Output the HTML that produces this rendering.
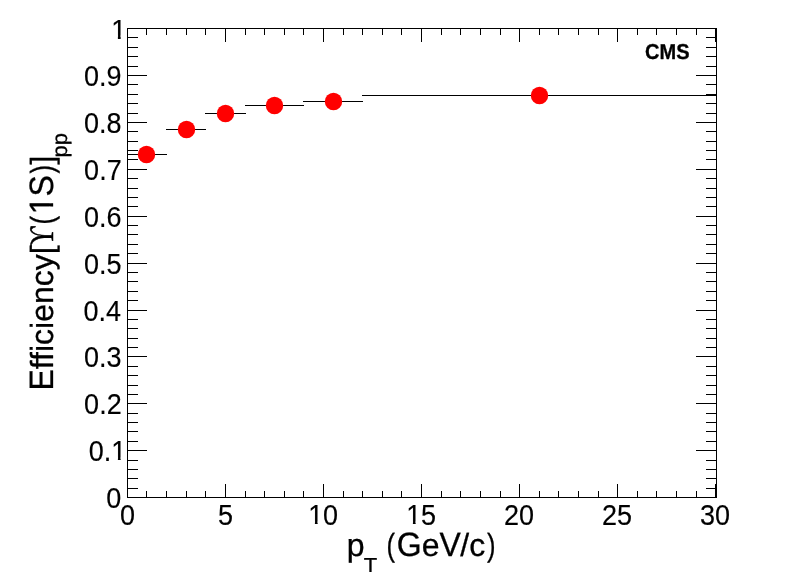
<!DOCTYPE html>
<html lang="en">
<head>
<meta charset="utf-8">
<title>Efficiency vs pT</title>
<style>
html,body{margin:0;padding:0;background:#fff;}
body{width:796px;height:572px;overflow:hidden;}
svg{display:block;}
text{font-family:"Liberation Sans",Arial,Helvetica,sans-serif;fill:#000;stroke:#000;stroke-width:0.3px;stroke-linejoin:round;white-space:pre;}
.sym{font-family:"Liberation Serif","DejaVu Serif",serif;stroke-width:0.5px;}
.gp{text-rendering:geometricPrecision;}
.lb text{stroke-width:0.15px;}
.ax,.eb{fill:#000;shape-rendering:crispEdges;}
.mk{fill:#ff0000;}
</style>
</head>
<body>
<svg width="796" height="572" viewBox="0 0 796 572">
<rect x="0" y="0" width="796" height="572" fill="#ffffff"/>
<g id="frame">
<rect class="ax" x="127" y="28" width="590" height="1"/>
<rect class="ax" x="127" y="497" width="590" height="1"/>
<rect class="ax" x="127" y="28" width="1" height="470"/>
<rect class="ax" x="716" y="28" width="1" height="470"/>
</g>
<g id="xticks">
<rect class="ax" x="127" y="484" width="1" height="14"/>
<rect class="ax" x="127" y="28" width="1" height="14"/>
<rect class="ax" x="146" y="491" width="1" height="7"/>
<rect class="ax" x="146" y="28" width="1" height="7"/>
<rect class="ax" x="166" y="491" width="1" height="7"/>
<rect class="ax" x="166" y="28" width="1" height="7"/>
<rect class="ax" x="186" y="491" width="1" height="7"/>
<rect class="ax" x="186" y="28" width="1" height="7"/>
<rect class="ax" x="205" y="491" width="1" height="7"/>
<rect class="ax" x="205" y="28" width="1" height="7"/>
<rect class="ax" x="225" y="484" width="1" height="14"/>
<rect class="ax" x="225" y="28" width="1" height="14"/>
<rect class="ax" x="245" y="491" width="1" height="7"/>
<rect class="ax" x="245" y="28" width="1" height="7"/>
<rect class="ax" x="264" y="491" width="1" height="7"/>
<rect class="ax" x="264" y="28" width="1" height="7"/>
<rect class="ax" x="284" y="491" width="1" height="7"/>
<rect class="ax" x="284" y="28" width="1" height="7"/>
<rect class="ax" x="303" y="491" width="1" height="7"/>
<rect class="ax" x="303" y="28" width="1" height="7"/>
<rect class="ax" x="323" y="484" width="1" height="14"/>
<rect class="ax" x="323" y="28" width="1" height="14"/>
<rect class="ax" x="343" y="491" width="1" height="7"/>
<rect class="ax" x="343" y="28" width="1" height="7"/>
<rect class="ax" x="362" y="491" width="1" height="7"/>
<rect class="ax" x="362" y="28" width="1" height="7"/>
<rect class="ax" x="382" y="491" width="1" height="7"/>
<rect class="ax" x="382" y="28" width="1" height="7"/>
<rect class="ax" x="401" y="491" width="1" height="7"/>
<rect class="ax" x="401" y="28" width="1" height="7"/>
<rect class="ax" x="421" y="484" width="1" height="14"/>
<rect class="ax" x="421" y="28" width="1" height="14"/>
<rect class="ax" x="441" y="491" width="1" height="7"/>
<rect class="ax" x="441" y="28" width="1" height="7"/>
<rect class="ax" x="460" y="491" width="1" height="7"/>
<rect class="ax" x="460" y="28" width="1" height="7"/>
<rect class="ax" x="480" y="491" width="1" height="7"/>
<rect class="ax" x="480" y="28" width="1" height="7"/>
<rect class="ax" x="500" y="491" width="1" height="7"/>
<rect class="ax" x="500" y="28" width="1" height="7"/>
<rect class="ax" x="519" y="484" width="1" height="14"/>
<rect class="ax" x="519" y="28" width="1" height="14"/>
<rect class="ax" x="539" y="491" width="1" height="7"/>
<rect class="ax" x="539" y="28" width="1" height="7"/>
<rect class="ax" x="558" y="491" width="1" height="7"/>
<rect class="ax" x="558" y="28" width="1" height="7"/>
<rect class="ax" x="578" y="491" width="1" height="7"/>
<rect class="ax" x="578" y="28" width="1" height="7"/>
<rect class="ax" x="598" y="491" width="1" height="7"/>
<rect class="ax" x="598" y="28" width="1" height="7"/>
<rect class="ax" x="617" y="484" width="1" height="14"/>
<rect class="ax" x="617" y="28" width="1" height="14"/>
<rect class="ax" x="637" y="491" width="1" height="7"/>
<rect class="ax" x="637" y="28" width="1" height="7"/>
<rect class="ax" x="656" y="491" width="1" height="7"/>
<rect class="ax" x="656" y="28" width="1" height="7"/>
<rect class="ax" x="676" y="491" width="1" height="7"/>
<rect class="ax" x="676" y="28" width="1" height="7"/>
<rect class="ax" x="696" y="491" width="1" height="7"/>
<rect class="ax" x="696" y="28" width="1" height="7"/>
<rect class="ax" x="715" y="484" width="1" height="14"/>
<rect class="ax" x="715" y="28" width="1" height="14"/>
</g>
<g id="yticks">
<rect class="ax" x="127" y="497" width="20" height="1"/>
<rect class="ax" x="696" y="497" width="21" height="1"/>
<rect class="ax" x="127" y="488" width="11" height="1"/>
<rect class="ax" x="706" y="488" width="11" height="1"/>
<rect class="ax" x="127" y="478" width="11" height="1"/>
<rect class="ax" x="706" y="478" width="11" height="1"/>
<rect class="ax" x="127" y="469" width="11" height="1"/>
<rect class="ax" x="706" y="469" width="11" height="1"/>
<rect class="ax" x="127" y="460" width="11" height="1"/>
<rect class="ax" x="706" y="460" width="11" height="1"/>
<rect class="ax" x="127" y="450" width="20" height="1"/>
<rect class="ax" x="696" y="450" width="21" height="1"/>
<rect class="ax" x="127" y="441" width="11" height="1"/>
<rect class="ax" x="706" y="441" width="11" height="1"/>
<rect class="ax" x="127" y="431" width="11" height="1"/>
<rect class="ax" x="706" y="431" width="11" height="1"/>
<rect class="ax" x="127" y="422" width="11" height="1"/>
<rect class="ax" x="706" y="422" width="11" height="1"/>
<rect class="ax" x="127" y="413" width="11" height="1"/>
<rect class="ax" x="706" y="413" width="11" height="1"/>
<rect class="ax" x="127" y="403" width="20" height="1"/>
<rect class="ax" x="696" y="403" width="21" height="1"/>
<rect class="ax" x="127" y="394" width="11" height="1"/>
<rect class="ax" x="706" y="394" width="11" height="1"/>
<rect class="ax" x="127" y="385" width="11" height="1"/>
<rect class="ax" x="706" y="385" width="11" height="1"/>
<rect class="ax" x="127" y="375" width="11" height="1"/>
<rect class="ax" x="706" y="375" width="11" height="1"/>
<rect class="ax" x="127" y="366" width="11" height="1"/>
<rect class="ax" x="706" y="366" width="11" height="1"/>
<rect class="ax" x="127" y="356" width="20" height="1"/>
<rect class="ax" x="696" y="356" width="21" height="1"/>
<rect class="ax" x="127" y="347" width="11" height="1"/>
<rect class="ax" x="706" y="347" width="11" height="1"/>
<rect class="ax" x="127" y="338" width="11" height="1"/>
<rect class="ax" x="706" y="338" width="11" height="1"/>
<rect class="ax" x="127" y="328" width="11" height="1"/>
<rect class="ax" x="706" y="328" width="11" height="1"/>
<rect class="ax" x="127" y="319" width="11" height="1"/>
<rect class="ax" x="706" y="319" width="11" height="1"/>
<rect class="ax" x="127" y="310" width="20" height="1"/>
<rect class="ax" x="696" y="310" width="21" height="1"/>
<rect class="ax" x="127" y="300" width="11" height="1"/>
<rect class="ax" x="706" y="300" width="11" height="1"/>
<rect class="ax" x="127" y="291" width="11" height="1"/>
<rect class="ax" x="706" y="291" width="11" height="1"/>
<rect class="ax" x="127" y="281" width="11" height="1"/>
<rect class="ax" x="706" y="281" width="11" height="1"/>
<rect class="ax" x="127" y="272" width="11" height="1"/>
<rect class="ax" x="706" y="272" width="11" height="1"/>
<rect class="ax" x="127" y="263" width="20" height="1"/>
<rect class="ax" x="696" y="263" width="21" height="1"/>
<rect class="ax" x="127" y="253" width="11" height="1"/>
<rect class="ax" x="706" y="253" width="11" height="1"/>
<rect class="ax" x="127" y="244" width="11" height="1"/>
<rect class="ax" x="706" y="244" width="11" height="1"/>
<rect class="ax" x="127" y="234" width="11" height="1"/>
<rect class="ax" x="706" y="234" width="11" height="1"/>
<rect class="ax" x="127" y="225" width="11" height="1"/>
<rect class="ax" x="706" y="225" width="11" height="1"/>
<rect class="ax" x="127" y="216" width="20" height="1"/>
<rect class="ax" x="696" y="216" width="21" height="1"/>
<rect class="ax" x="127" y="206" width="11" height="1"/>
<rect class="ax" x="706" y="206" width="11" height="1"/>
<rect class="ax" x="127" y="197" width="11" height="1"/>
<rect class="ax" x="706" y="197" width="11" height="1"/>
<rect class="ax" x="127" y="188" width="11" height="1"/>
<rect class="ax" x="706" y="188" width="11" height="1"/>
<rect class="ax" x="127" y="178" width="11" height="1"/>
<rect class="ax" x="706" y="178" width="11" height="1"/>
<rect class="ax" x="127" y="169" width="20" height="1"/>
<rect class="ax" x="696" y="169" width="21" height="1"/>
<rect class="ax" x="127" y="159" width="11" height="1"/>
<rect class="ax" x="706" y="159" width="11" height="1"/>
<rect class="ax" x="127" y="150" width="11" height="1"/>
<rect class="ax" x="706" y="150" width="11" height="1"/>
<rect class="ax" x="127" y="141" width="11" height="1"/>
<rect class="ax" x="706" y="141" width="11" height="1"/>
<rect class="ax" x="127" y="131" width="11" height="1"/>
<rect class="ax" x="706" y="131" width="11" height="1"/>
<rect class="ax" x="127" y="122" width="20" height="1"/>
<rect class="ax" x="696" y="122" width="21" height="1"/>
<rect class="ax" x="127" y="113" width="11" height="1"/>
<rect class="ax" x="706" y="113" width="11" height="1"/>
<rect class="ax" x="127" y="103" width="11" height="1"/>
<rect class="ax" x="706" y="103" width="11" height="1"/>
<rect class="ax" x="127" y="94" width="11" height="1"/>
<rect class="ax" x="706" y="94" width="11" height="1"/>
<rect class="ax" x="127" y="84" width="11" height="1"/>
<rect class="ax" x="706" y="84" width="11" height="1"/>
<rect class="ax" x="127" y="75" width="20" height="1"/>
<rect class="ax" x="696" y="75" width="21" height="1"/>
<rect class="ax" x="127" y="66" width="11" height="1"/>
<rect class="ax" x="706" y="66" width="11" height="1"/>
<rect class="ax" x="127" y="56" width="11" height="1"/>
<rect class="ax" x="706" y="56" width="11" height="1"/>
<rect class="ax" x="127" y="47" width="11" height="1"/>
<rect class="ax" x="706" y="47" width="11" height="1"/>
<rect class="ax" x="127" y="37" width="11" height="1"/>
<rect class="ax" x="706" y="37" width="11" height="1"/>
<rect class="ax" x="127" y="28" width="20" height="1"/>
<rect class="ax" x="696" y="28" width="21" height="1"/>
</g>
<g id="errors">
<rect class="eb" x="127" y="154" width="40" height="1"/>
<rect class="eb" x="166" y="129" width="40" height="1"/>
<rect class="eb" x="205" y="113" width="41" height="1"/>
<rect class="eb" x="245" y="105" width="59" height="1"/>
<rect class="eb" x="303" y="101" width="60" height="1"/>
<rect class="eb" x="362" y="95" width="354" height="1"/>
</g>
<g id="markers">
<ellipse class="mk" cx="146.5" cy="154.5" rx="8.7" ry="8.85"/>
<ellipse class="mk" cx="186.5" cy="129.5" rx="8.7" ry="8.85"/>
<ellipse class="mk" cx="225.5" cy="113.5" rx="8.7" ry="8.85"/>
<ellipse class="mk" cx="274.5" cy="105.5" rx="8.7" ry="8.85"/>
<ellipse class="mk" cx="333.5" cy="101.5" rx="8.7" ry="8.85"/>
<ellipse class="mk" cx="539.5" cy="95.5" rx="8.7" ry="8.85"/>
</g>
<defs>
<clipPath id="trim"><path clip-rule="evenodd" d="M0 0H796V572H0Z M110.77 457.60H117.89V462.50H110.77Z M120.65 457.60H127.27V462.50H120.65Z M117.89 460.00H120.65V462.50H117.89Z M110.77 35.60H117.89V40.50H110.77Z M120.65 35.60H127.27V40.50H120.65Z M307.78 521.60H314.90V526.50H307.78Z M317.66 521.60H323.08V526.50H317.66Z M314.90 524.00H317.66V526.50H314.90Z M405.78 521.60H412.90V526.50H405.78Z M415.66 521.60H421.08V526.50H415.66Z M412.90 524.00H415.66V526.50H412.90Z M49.63 197.11H54.05V203.22H49.63Z M49.63 206.55H54.05V212.91H49.63Z"/></clipPath>
</defs>
<g id="labels" clip-path="url(#trim)">
<g id="ylabels" class="lb">
<text transform="translate(106.34,507.50) scale(1,1.07)" font-size="27">0</text>
<text transform="translate(88.75,460.50) scale(1,1.07)" font-size="27">0.1</text>
<text transform="translate(84.12,413.50) scale(1,1.07)" font-size="27">0.2</text>
<text transform="translate(83.95,366.50) scale(1,1.07)" font-size="27">0.3</text>
<text transform="translate(83.56,320.50) scale(1,1.07)" font-size="27">0.4</text>
<text transform="translate(83.90,273.50) scale(1,1.07)" font-size="27">0.5</text>
<text transform="translate(83.95,226.50) scale(1,1.07)" font-size="27">0.6</text>
<text transform="translate(84.12,179.50) scale(1,1.07)" font-size="27">0.7</text>
<text transform="translate(83.94,132.50) scale(1,1.07)" font-size="27">0.8</text>
<text transform="translate(84.05,85.50) scale(1,1.07)" font-size="27">0.9</text>
<text transform="translate(111.27,38.50) scale(1,1.03)" font-size="27">1</text>
</g>
<g id="xlabels" class="lb">
<text transform="translate(120.09,524.60) scale(1,1.07)" font-size="27">0</text>
<text transform="translate(218.09,524.60) scale(1,1.07)" font-size="27">5</text>
<text transform="translate(307.88,524.60) scale(1,1.07)" font-size="27"><tspan x="0.40">1</tspan><tspan x="15.02">0</tspan></text>
<text transform="translate(405.88,524.60) scale(1,1.07)" font-size="27"><tspan x="0.40">1</tspan><tspan x="15.02">5</tspan></text>
<text transform="translate(503.88,524.60) scale(1,1.07)" font-size="27">20</text>
<text transform="translate(601.88,524.60) scale(1,1.07)" font-size="27">25</text>
<text transform="translate(699.88,524.60) scale(1,1.07)" font-size="27">30</text>
</g>
<text id="xtitle" class="gp" transform="translate(346.70,556.00)" font-size="32"><tspan x="0" y="0">p</tspan><tspan x="17.00" y="17.60" font-size="23.21" textLength="13.44" lengthAdjust="spacingAndGlyphs">T</tspan><tspan x="30.51" y="0"> </tspan><tspan x="39.80" y="0.00" textLength="8.53" lengthAdjust="spacingAndGlyphs">(</tspan><tspan x="50.06" y="0.00" font-size="33.76" textLength="24.89" lengthAdjust="spacingAndGlyphs">G</tspan><tspan x="74.95" y="0.00">e</tspan><tspan x="92.74" y="0.00" font-size="33.76" textLength="21.34" lengthAdjust="spacingAndGlyphs">V</tspan><tspan x="113.59" y="0.00">/c</tspan><tspan x="140.21" y="0.00" textLength="8.53" lengthAdjust="spacingAndGlyphs">)</tspan></text>
<text id="ytitle" class="gp" transform="translate(53.05,390.60) rotate(-90)" font-size="32"><tspan x="0.00" y="0.00" font-size="33.76" textLength="21.34" lengthAdjust="spacingAndGlyphs">E</tspan><tspan x="21.34" y="0.00">fficiency[</tspan><tspan class="sym" x="143.90" y="0" font-size="34.56" textLength="20.34" lengthAdjust="spacingAndGlyphs">&#978;</tspan><tspan x="166.00" y="0.00" textLength="8.53" lengthAdjust="spacingAndGlyphs">(</tspan><tspan x="176.26" y="0.00" font-size="33.76" textLength="39.14" lengthAdjust="spacingAndGlyphs">1S</tspan><tspan x="217.13" y="0.00" textLength="8.53" lengthAdjust="spacingAndGlyphs">)</tspan><tspan x="226.05" y="0.00">]</tspan><tspan x="233.00" y="14.25" font-size="21.34" textLength="24.47" lengthAdjust="spacingAndGlyphs">pp</tspan></text>
<text id="cms" class="gp" transform="translate(645.10,59.00) scale(1,1.08)" font-size="20" font-weight="bold">CMS</text>
</g>
</svg>
</body>
</html>
